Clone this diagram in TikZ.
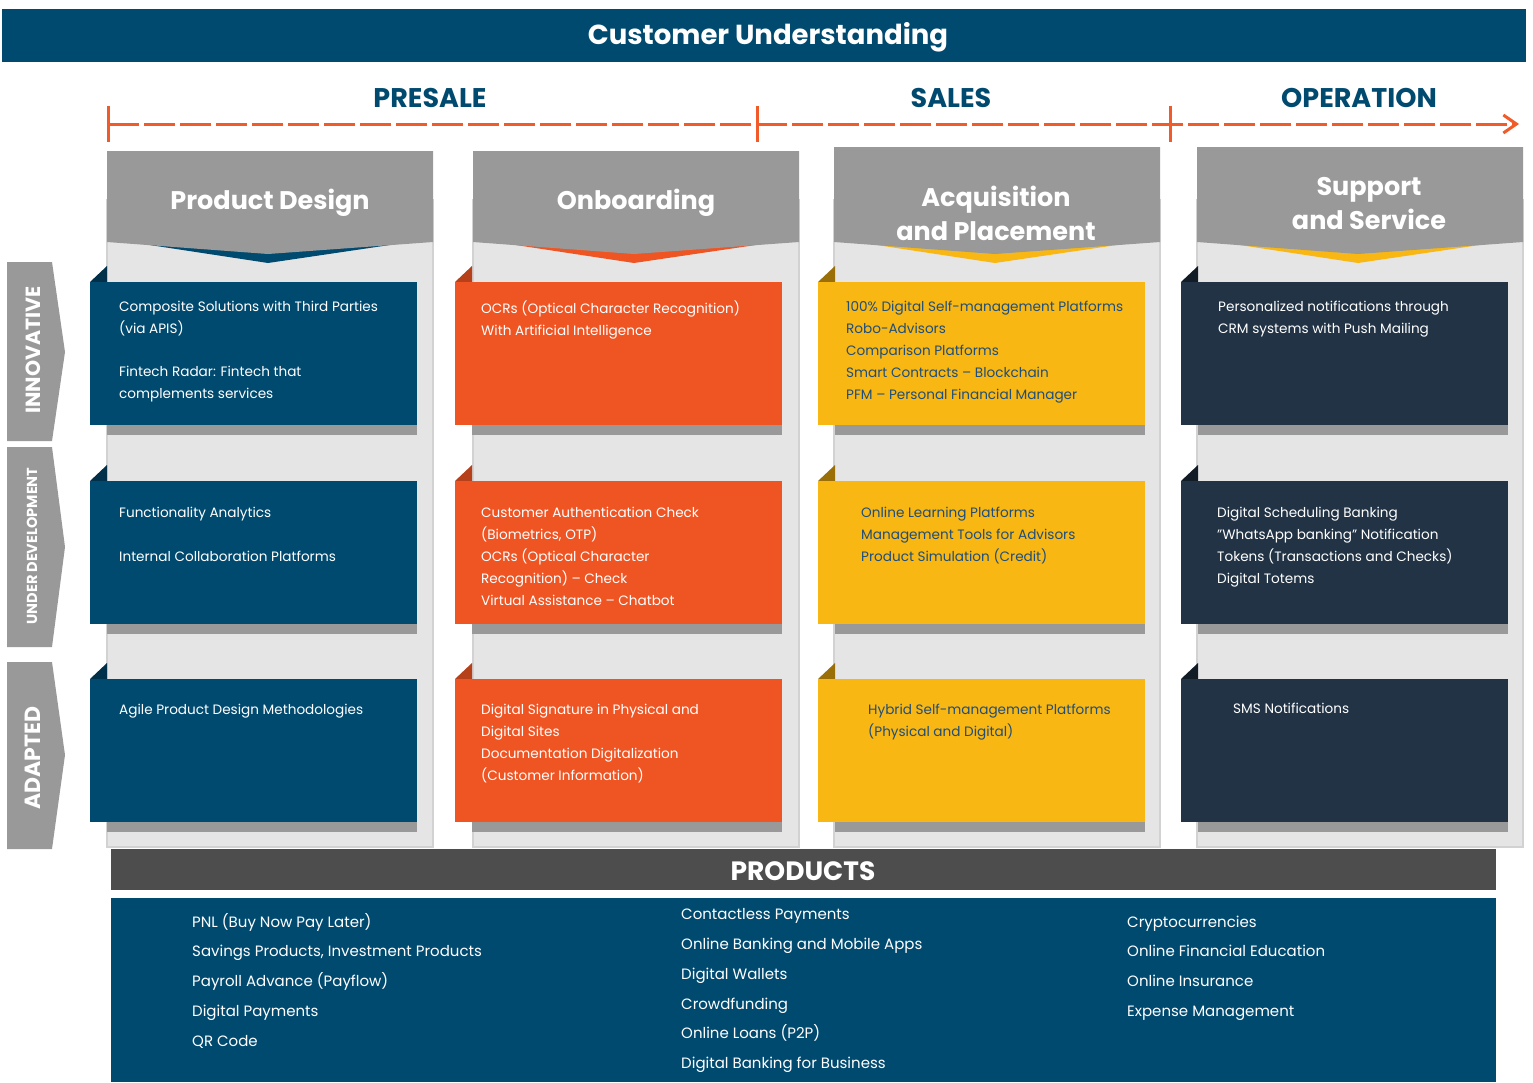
\documentclass[tikz,border=0pt]{standalone}
\usepackage{fontspec}
\setmainfont{Poppins}
\usetikzlibrary{arrows.meta}
\definecolor{blueM}{HTML}{004A70}
\definecolor{blueD}{HTML}{00304A}
\definecolor{orangeC}{HTML}{EF5423}
\definecolor{orangeD}{HTML}{B5401A}
\definecolor{yellowC}{HTML}{F9B714}
\definecolor{yellowD}{HTML}{9A6F08}
\definecolor{navyC}{HTML}{213345}
\definecolor{navyD}{HTML}{111C27}
\definecolor{greyH}{HTML}{999999}
\definecolor{panelC}{HTML}{E5E5E5}
\definecolor{panelB}{HTML}{D2D2D2}
\definecolor{prodbar}{HTML}{4D4D4D}
\definecolor{dashC}{HTML}{F15A29}
\definecolor{ytext}{HTML}{1F4E79}
\tikzset{
  cardbox/.style={anchor=north west, minimum width=327pt, minimum height=143pt, inner sep=0pt, draw=none},
  cardtxt/.style={anchor=north west, inner sep=0pt, align=left, font=\fontsize{13.6}{22}\selectfont},
  hdrtxt/.style={align=center, text=white, inner sep=0pt, font=\bfseries\fontsize{25.5}{34}\selectfont},
  phasetxt/.style={text=blueM, inner sep=0pt, font=\bfseries\fontsize{27}{30}\selectfont},
  prodtxt/.style={anchor=west, text=white, inner sep=0pt, text height=11pt, text depth=3pt, font=\fontsize{15}{18}\selectfont},
  sidetxt/.style={rotate=90, text=white, inner sep=0pt},
}
% #1 panel left x, #2 row top y, #3 fill, #4 dark, #5 name
\newcommand{\mkcard}[5]{%
  \fill[greyH] (#1,#2+143) rectangle (#1+310,#2+153);
  \fill[#4] (#1-17,#2) -- (#1,#2-16) -- (#1,#2) -- cycle;
  \node[cardbox, fill=#3] (#5) at (#1-17,#2) {};
}
% #1 x1, #2 x2, #3 top, #4 accent color
\newcommand{\mkhead}[4]{%
  \fill[panelC, draw=panelB, line width=2.5pt] (#1,200) rectangle (#2,847);
  \fill[#4] (#1+23,242) -- ({(#1+#2)/2-2},263) -- (#2-23,242) -- cycle;
  \fill[greyH] (#1,#3) -- (#2,#3) -- (#2,242) -- ({(#1+#2)/2-2},254) -- (#1,242) -- cycle;
}
\begin{document}
\begin{tikzpicture}[x=1pt,y=-1pt]
\useasboundingbox (0,0) rectangle (1533,1082);
\fill[white] (0,0) rectangle (1533,1082);

% title
\fill[blueM] (2,9) rectangle (1526,62);
\node[text=white, inner sep=0pt, font=\bfseries\fontsize{27.5}{30}\selectfont] (title) at (768,37.5) {Customer Understanding};

% phases
\node[phasetxt] (presale) at (430,98) {PRESALE};
\node[phasetxt] (sales) at (951,98) {SALES};
\node[phasetxt] (operation) at (1359,98) {OPERATION};

\coordinate (ts) at (108,124);
\coordinate (te) at (1519,124);
\draw[dashC, line width=3pt, dash pattern=on 31pt off 5pt, -{Straight Barb[length=13pt,width=18pt,line width=3pt]}] (ts) -- (te);
\foreach \tx in {108,757,1170}{
  \draw[dashC, line width=3pt] (\tx,106) -- (\tx,142);
}

% column panels and headers
\mkhead{107}{433}{151}{blueM}
\mkhead{473}{799}{151}{orangeC}
\mkhead{834}{1160}{147}{yellowC}
\mkhead{1197}{1523}{147}{yellowC}

\node[hdrtxt] (h1) at (270,203) {Product Design};
\node[hdrtxt] (h2) at (636,203) {Onboarding};
\node[hdrtxt] (h3) at (996,213) {Acquisition\\and Placement};
\node[hdrtxt] (h4) at (1369,204) {Support\\and Service};

% side labels
\fill[greyH] (7,262) -- (52,262) -- (65,352) -- (52,441) -- (7,441) -- cycle;
\fill[greyH] (7,447) -- (52,447) -- (65,547) -- (52,647) -- (7,647) -- cycle;
\fill[greyH] (7,662) -- (52,662) -- (65,755) -- (52,849) -- (7,849) -- cycle;
\node[sidetxt, font=\bfseries\fontsize{20.5}{24}\selectfont] (sInn) at (33,350) {INNOVATIVE};
\node[sidetxt, font=\bfseries\fontsize{14.5}{17}\selectfont] (sDev) at (32,546) {UNDER DEVELOPMENT};
\node[sidetxt, font=\bfseries\fontsize{22}{26}\selectfont] (sAda) at (33,758) {ADAPTED};

% cards
\mkcard{107}{282}{blueM}{blueD}{c11}
\mkcard{107}{481}{blueM}{blueD}{c12}
\mkcard{107}{679}{blueM}{blueD}{c13}
\mkcard{472}{282}{orangeC}{orangeD}{c21}
\mkcard{472}{481}{orangeC}{orangeD}{c22}
\mkcard{472}{679}{orangeC}{orangeD}{c23}
\mkcard{835}{282}{yellowC}{yellowD}{c31}
\mkcard{835}{481}{yellowC}{yellowD}{c32}
\mkcard{835}{679}{yellowC}{yellowD}{c33}
\mkcard{1198}{282}{navyC}{navyD}{c41}
\mkcard{1198}{481}{navyC}{navyD}{c42}
\mkcard{1198}{679}{navyC}{navyD}{c43}

% card texts
\node[cardtxt, text=white] (t11) at (119,296) {\strut Composite Solutions with Third Parties\\(via APIS)\\[21pt]Fintech Radar: Fintech that\\complements services};
\node[cardtxt, text=white] (t12) at (119,502) {\strut Functionality Analytics\\[22pt]Internal Collaboration Platforms};
\node[cardtxt, text=white] (t13) at (119,699) {\strut Agile Product Design Methodologies};

\node[cardtxt, text=white] (t21) at (481,298) {\strut OCRs (Optical Character Recognition)\\With Artificial Intelligence};
\node[cardtxt, text=white] (t22) at (481,502) {\strut Customer Authentication Check\\(Biometrics, OTP)\\OCRs (Optical Character\\Recognition) -- Check\\Virtual Assistance -- Chatbot};
\node[cardtxt, text=white] (t23) at (481,699) {\strut Digital Signature in Physical and\\Digital Sites\\Documentation Digitalization\\(Customer Information)};

\node[cardtxt, text=ytext] (t31) at (846,296) {\strut 100\% Digital Self-management Platforms\\Robo-Advisors\\Comparison Platforms\\Smart Contracts -- Blockchain\\PFM -- Personal Financial Manager};
\node[cardtxt, text=ytext] (t32) at (861,502) {\strut Online Learning Platforms\\Management Tools for Advisors\\Product Simulation (Credit)};
\node[cardtxt, text=ytext] (t33) at (868,699) {\strut Hybrid Self-management Platforms\\(Physical and Digital)};

\node[cardtxt, text=white] (t41) at (1218,296) {\strut Personalized notifications through\\CRM systems with Push Mailing};
\node[cardtxt, text=white] (t42) at (1217,502) {\strut Digital Scheduling Banking\\"WhatsApp banking" Notification\\Tokens (Transactions and Checks)\\Digital Totems};
\node[cardtxt, text=white] (t43) at (1233,698) {\strut SMS Notifications};

% products
\fill[prodbar] (111,849) rectangle (1496,890);
\node[text=white, inner sep=0pt, font=\bfseries\fontsize{26.5}{30}\selectfont] (prodhead) at (803,871) {PRODUCTS};
\fill[blueM] (111,898) rectangle (1496,1082);

\node[prodtxt] (pa1) at (192,923) {PNL (Buy Now Pay Later)};
\node[prodtxt] (pa2) at (192,952) {Savings Products, Investment Products};
\node[prodtxt] (pa3) at (192,982) {Payroll Advance (Payflow)};
\node[prodtxt] (pa4) at (192,1012) {Digital Payments};
\node[prodtxt] (pa5) at (192,1042) {QR Code};

\node[prodtxt] (pb1) at (681,915) {Contactless Payments};
\node[prodtxt] (pb2) at (681,945) {Online Banking and Mobile Apps};
\node[prodtxt] (pb3) at (681,975) {Digital Wallets};
\node[prodtxt] (pb4) at (681,1005) {Crowdfunding};
\node[prodtxt] (pb5) at (681,1034) {Online Loans (P2P)};
\node[prodtxt] (pb6) at (681,1064) {Digital Banking for Business};

\node[prodtxt] (pc1) at (1127,923) {Cryptocurrencies};
\node[prodtxt] (pc2) at (1127,952) {Online Financial Education};
\node[prodtxt] (pc3) at (1127,982) {Online Insurance};
\node[prodtxt] (pc4) at (1127,1012) {Expense Management};
\end{tikzpicture}
\end{document}
